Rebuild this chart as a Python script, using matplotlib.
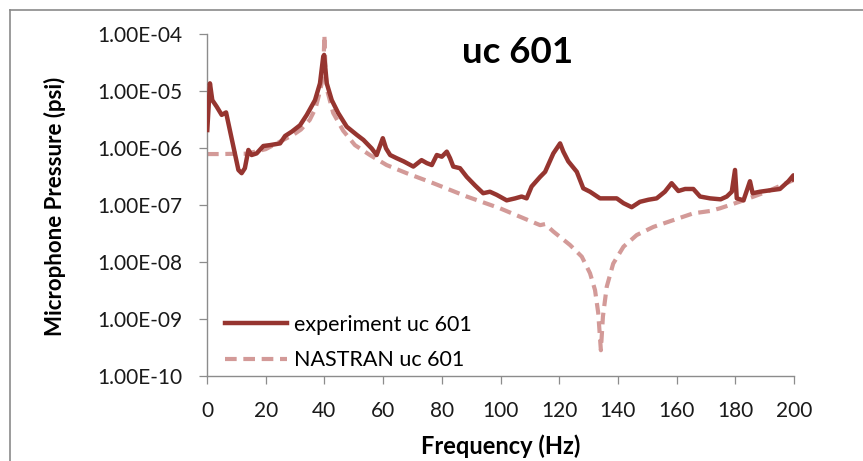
import matplotlib
matplotlib.use("Agg")
import numpy as np
import matplotlib.pyplot as plt
from matplotlib.lines import Line2D
from matplotlib.ticker import FixedLocator, FuncFormatter, NullLocator

plt.rcParams['font.family'] = ['Lato', 'DejaVu Sans']

#%% measured response (experiment)
freq_exp = [0.1, 1.0, 1.8, 3.3, 5.0, 6.5, 6.9, 9.0, 10.7, 11.8,
            12.9, 14.1, 15.2, 16.9, 19.2, 21.5, 24.9, 26.6, 28.9, 31.7,
            34.0, 36.8, 38.5, 39.6, 39.9, 40.8, 42.5, 44.7, 47.6, 51.0,
            53.3, 56.1, 57.8, 59.9, 61.0, 62.4, 64.6, 67.0, 70.3, 73.1,
            74.9, 76.6, 78.3, 80.0, 81.7, 82.8, 83.9, 86.2, 88.5, 91.3,
            94.1, 96.4, 98.7, 102.1, 105.0, 107.2, 108.9, 110.6, 113.5, 115.2,
            118.0, 120.3, 121.4, 123.1, 126.0, 128.2, 130.5, 133.9, 137.3, 139.6,
            141.9, 144.7, 147.5, 150.4, 153.2, 156.0, 158.3, 160.6, 162.9, 165.7,
            168.0, 171.4, 175.0, 177.1, 178.8, 179.9, 180.5, 182.8, 185.0, 185.9,
            188.4, 191.8, 195.2, 198.1, 199.8, 200.0]
p_exp = [2.06e-6, 1.36e-5, 6.9e-6, 5.3e-6, 3.8e-6, 4.2e-6, 3.35e-6, 1.05e-6, 4.1e-7, 3.6e-7,
         4.4e-7, 9.2e-7, 7.5e-7, 8.0e-7, 1.08e-6, 1.12e-6, 1.2e-6, 1.62e-6, 1.93e-6, 2.5e-6,
         3.8e-6, 6.9e-6, 1.36e-5, 4.0e-5, 4.3e-5, 1.36e-5, 6.9e-6, 4.1e-6, 2.36e-6, 1.7e-6,
         1.38e-6, 9.8e-7, 7.5e-7, 1.48e-6, 9.8e-7, 7.5e-7, 6.6e-7, 5.8e-7, 4.7e-7, 6.1e-7,
         5.4e-7, 5.0e-7, 7.5e-7, 7.0e-7, 8.6e-7, 6.6e-7, 4.7e-7, 4.4e-7, 3.1e-7, 2.2e-7,
         1.6e-7, 1.7e-7, 1.5e-7, 1.2e-7, 1.3e-7, 1.4e-7, 1.3e-7, 2.1e-7, 3.1e-7, 3.8e-7,
         8.0e-7, 1.2e-6, 8.6e-7, 5.8e-7, 3.8e-7, 1.95e-7, 1.7e-7, 1.3e-7, 1.3e-7, 1.3e-7,
         1.07e-7, 9.1e-8, 1.13e-7, 1.23e-7, 1.3e-7, 1.7e-7, 2.4e-7, 1.75e-7, 1.9e-7, 1.9e-7,
         1.4e-7, 1.3e-7, 1.25e-7, 1.4e-7, 1.7e-7, 4.1e-7, 1.3e-7, 1.2e-7, 2.6e-7, 1.6e-7,
         1.7e-7, 1.8e-7, 1.9e-7, 2.6e-7, 3.3e-7, 2.8e-7]

#%% NASTRAN prediction
freq_nas = [0, 5, 10, 13.5, 20, 25, 29.4, 32, 35, 37,
            38, 39, 39.6, 40, 40.4, 41, 43, 46.4, 50.4, 55.5,
            61.2, 68, 77.1, 88.5, 99.8, 106.6, 113.5, 115.2, 118, 123.7,
            127.7, 130.5, 132.2, 133.3, 134.2, 134.9, 136.2, 138.4, 141.9, 146.4,
            152.1, 158.9, 165.7, 171.4, 174.8, 181.6, 190.7, 200]
p_nas = [7.8e-7, 7.8e-7, 7.9e-7, 7.9e-7, 9.5e-7, 1.3e-6, 1.7e-6, 2.1e-6, 3.1e-6, 5.0e-6,
         7.9e-6, 1.3e-5, 2.04e-5, 9.6e-5, 2.0e-5, 1.0e-5, 4.1e-6, 2.0e-6, 1.12e-6, 7.5e-7,
         5.0e-7, 3.6e-7, 2.4e-7, 1.4e-7, 8.7e-8, 6.2e-8, 4.4e-8, 4.6e-8, 3.4e-8, 1.97e-8,
         1.23e-8, 6.3e-9, 3.2e-9, 1.26e-9, 2.8e-10, 1.1e-9, 3.65e-9, 9.3e-9, 1.84e-8, 2.95e-8,
         4.1e-8, 5.4e-8, 7.1e-8, 7.8e-8, 8.7e-8, 1.14e-7, 1.7e-7, 2.75e-7]

x_ticks = list(range(0, 201, 20))
y_ticks = [1e-10, 1e-9, 1e-8, 1e-7, 1e-6, 1e-5, 1e-4]

#%% figure
fig = plt.figure(figsize=(8.63, 4.61), dpi=100)
ax = fig.add_axes([207/863, 1 - 375.7/461, 587/863, 341.7/461])

ax.plot(freq_nas, p_nas, color='#d39a98', lw=3, dashes=(2.8, 1.6),
        label='NASTRAN uc 601', zorder=2)
ax.plot(freq_exp, p_exp, color='#963530', lw=3.2, label='experiment uc 601',
        zorder=3, solid_joinstyle='round')

ax.set_yscale('log')
ax.set_xlim(0, 200)
ax.set_ylim(1e-10, 1e-4)
ax.xaxis.set_major_locator(FixedLocator(x_ticks))
ax.yaxis.set_major_locator(FixedLocator(y_ticks))
ax.yaxis.set_minor_locator(NullLocator())
ax.yaxis.set_major_formatter(FuncFormatter(lambda v, pos: f"{v:.2E}"))

for side in ('top', 'right'):
    ax.spines[side].set_visible(False)
for side in ('left', 'bottom'):
    ax.spines[side].set_color('#8c8c8c')
    ax.spines[side].set_linewidth(1.0)
ax.tick_params(axis='both', direction='out', length=5.5, width=0.9,
               color='#8c8c8c', labelsize=15, labelcolor='#1a1a1a')
ax.tick_params(axis='y', pad=12)
ax.tick_params(axis='x', pad=13)

# legend (experiment first)
h, l = ax.get_legend_handles_labels()
ax.legend(h[::-1], l[::-1], loc='upper left', bbox_to_anchor=(225/863, 1 - 315/461),
          bbox_transform=fig.transFigure, frameon=False, fontsize=15.5,
          borderpad=0, borderaxespad=0, handlelength=2.9, handletextpad=0.3,
          labelspacing=0.7)

fig.text(55/863, 0.552, 'Microphone Pressure (psi)', rotation=90, ha='center',
         va='center', fontsize=16, fontweight='bold')
fig.text(501/863, 0.032, 'Frequency (Hz)', ha='center', va='center',
         fontsize=17, fontweight='bold')
fig.text(518/863, 1 - 63/461, 'uc 601', ha='center', va='baseline',
         fontsize=26.5, fontweight='bold')

# chart area border (only left and top edges fall inside the image)
fig.add_artist(Line2D([10/863, 10/863], [0, 1 - 10/461], transform=fig.transFigure,
                      color='#8a8a8a', lw=1.2))
fig.add_artist(Line2D([10/863, 1], [1 - 10/461, 1 - 10/461], transform=fig.transFigure,
                      color='#8a8a8a', lw=1.2))

fig.savefig('out.png', dpi=100)
